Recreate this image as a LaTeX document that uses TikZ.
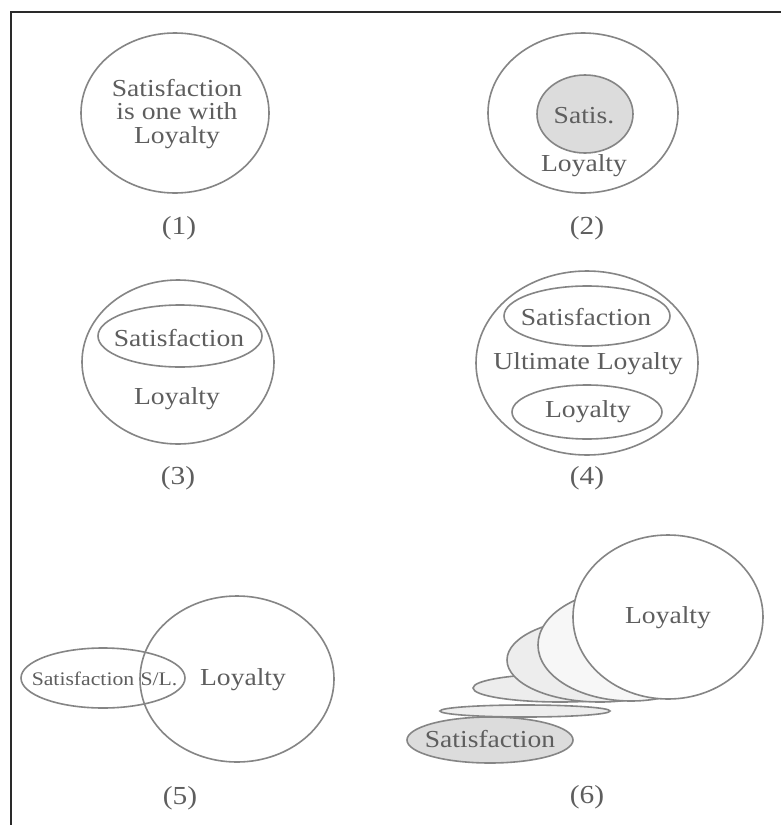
\documentclass[tikz,border=0pt]{standalone}
\usepackage{fontspec}
\setmainfont{Liberation Serif}
\usepackage{graphicx}
\definecolor{ink}{HTML}{5E5E5E}
\definecolor{rim}{HTML}{858585}
\definecolor{shade}{HTML}{DCDCDC}
\definecolor{pale}{HTML}{EDEDED}
\definecolor{paler}{HTML}{F7F7F7}
\definecolor{framecol}{HTML}{2A2A2A}
% the lettering is set a little wide
\newcommand\wide[1]{\scalebox{1.13}[1]{#1}}

\begin{document}
\begin{tikzpicture}[x=0.5pt,y=-0.5pt,
  rimline/.style={draw=rim, line width=0.8pt},
  lbl/.style={text=ink, font=\fontsize{12.2}{11.8}\selectfont, inner sep=0pt, align=center},
  smalllbl/.style={text=ink, font=\fontsize{9.6}{10}\selectfont, inner sep=0pt},
  tag/.style={text=ink, font=\fontsize{13}{14}\selectfont, inner sep=0pt}]
\useasboundingbox[fill=white] (0,0) rectangle (781,825);

% frame (left and top edges)
\draw[framecol, line width=1pt] (11,825) -- (11,12) -- (781,12);

% (1) satisfaction is one with loyalty
\draw[rimline] (175,113) ellipse [x radius=94, y radius=80];
\node[lbl] (t1) at (177,114) {\wide{Satisfaction}\\\wide{is one with}\\\wide{Loyalty}};
\node[tag] (n1) at (179,228) {\wide{(1)}};

% (2) satisfaction inside loyalty
\draw[rimline] (583,113) ellipse [x radius=95, y radius=80];
\draw[rimline, fill=shade] (585,114) ellipse [x radius=48, y radius=39];
\node[lbl] (t2a) at (584,116) {\wide{Satis.}};
\node[lbl] (t2b) at (584,166) {\wide{Loyalty}};
\node[tag] (n2) at (587,228) {\wide{(2)}};

% (3) satisfaction as part of loyalty
\draw[rimline] (178,362) ellipse [x radius=96, y radius=82];
\draw[rimline] (180,336) ellipse [x radius=82, y radius=31];
\node[lbl] (t3a) at (179,338) {\wide{Satisfaction}};
\node[lbl] (t3b) at (177,399) {\wide{Loyalty}};
\node[tag] (n3) at (178,478) {\wide{(3)}};

% (4) ultimate loyalty
\draw[rimline] (587,363) ellipse [x radius=111, y radius=92];
\draw[rimline] (587,316) ellipse [x radius=83, y radius=30];
\draw[rimline] (587,412) ellipse [x radius=75, y radius=27];
\node[lbl] (t4a) at (586,317) {\wide{Satisfaction}};
\node[lbl] (t4b) at (588,364) {\wide{Ultimate Loyalty}};
\node[lbl] (t4c) at (588,412) {\wide{Loyalty}};
\node[tag] (n4) at (587,478) {\wide{(4)}};

% (5) overlap of satisfaction and loyalty
\draw[rimline] (103,678) ellipse [x radius=82, y radius=30];
\draw[rimline] (237,679) ellipse [x radius=97, y radius=83];
\node[smalllbl] (t5a) at (83,679) {\wide{Satisfaction}};
\node[smalllbl] (t5b) at (159,679) {\wide{S/L.}};
\node[lbl] (t5c) at (243,680) {\wide{Loyalty}};
\node[tag] (n5) at (180,798) {\wide{(5)}};

% (6) satisfaction growing into loyalty
\draw[rimline, fill=shade] (490,740) ellipse [x radius=83, y radius=23];
\draw[rimline, fill=pale] (525,711) ellipse [x radius=85, y radius=6];
\draw[rimline, fill=pale] (560,688) ellipse [x radius=87, y radius=14];
\draw[rimline, fill=pale] (600,660) ellipse [x radius=93, y radius=42];
\draw[rimline, fill=paler] (631,645) ellipse [x radius=93, y radius=56];
\draw[rimline, fill=white] (668,617) ellipse [x radius=95, y radius=82];
\node[lbl] (t6a) at (490,739) {\wide{Satisfaction}};
\node[lbl] (t6b) at (668,618) {\wide{Loyalty}};
\node[tag] (n6) at (587,797) {\wide{(6)}};
\end{tikzpicture}
\end{document}
